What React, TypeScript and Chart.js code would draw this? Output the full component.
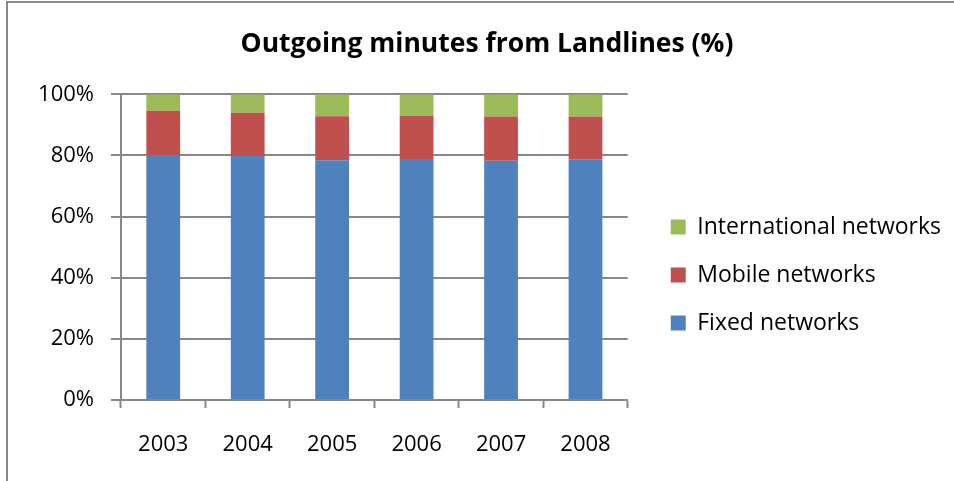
import React, { useEffect, useRef } from "react";
import { Chart, registerables } from "chart.js";

Chart.register(...registerables);

// Share of outgoing landline minutes by destination network, per year (%)
const years = ["2003", "2004", "2005", "2006", "2007", "2008"];
const fixedNetworks = [80.1, 79.8, 78.4, 78.8, 78.3, 78.6];
const mobileNetworks = [14.5, 14.2, 14.4, 14.2, 14.4, 14.1];
const internationalNetworks = [5.4, 6.0, 7.2, 7.0, 7.3, 7.3];
const yTicks = [0, 20, 40, 60, 80, 100];

const TITLE = "Outgoing minutes from Landlines (%)";
const FONT = "'Open Sans', Lato, sans-serif";
const AXIS_GREY = "#888888";

// invisible right-hand boxes that reserve room around the legend
const spacer = (width: number, weight: number) => ({
  type: "linear",
  position: "right",
  display: true,
  weight,
  grid: { display: false },
  border: { display: false },
  ticks: { display: false },
  afterFit: (scale: any) => {
    scale.width = width;
  },
});

export default function App() {
  const canvasRef = useRef<HTMLCanvasElement | null>(null);

  useEffect(() => {
    const canvas = canvasRef.current;
    if (!canvas) return;

    const chart = new Chart(canvas, {
      type: "bar",
      data: {
        labels: years,
        datasets: [
          {
            label: "Fixed networks",
            data: fixedNetworks,
            backgroundColor: "#4F81BD",
            borderWidth: 0,
          },
          {
            label: "Mobile networks",
            data: mobileNetworks,
            backgroundColor: "#C0504D",
            borderWidth: 0,
          },
          {
            label: "International networks",
            data: internationalNetworks,
            backgroundColor: "#9BBB59",
            borderWidth: 0,
          },
        ],
      },
      options: {
        responsive: false,
        animation: false,
        devicePixelRatio: 1,
        datasets: {
          bar: { categoryPercentage: 0.4, barPercentage: 1 },
        },
        layout: { padding: 0 },
        scales: {
          x: {
            stacked: true,
            grid: {
              display: true,
              drawOnChartArea: false,
              drawTicks: true,
              tickLength: 8,
              tickWidth: 2,
              color: AXIS_GREY,
              offset: true,
            },
            border: { display: true, color: AXIS_GREY, width: 2 },
            ticks: {
              color: "#000",
              padding: 24,
              font: { family: FONT, size: 22 },
              maxRotation: 0,
            },
            afterFit: (scale: any) => {
              scale.height = 147;
            },
          },
          y: {
            stacked: true,
            min: 0,
            max: 100,
            afterBuildTicks: (scale: any) => {
              scale.ticks = yTicks.map((v) => ({ value: v }));
            },
            grid: {
              color: AXIS_GREY,
              lineWidth: 2,
              drawTicks: true,
              tickLength: 10,
              tickWidth: 2,
            },
            border: { display: true, color: AXIS_GREY, width: 2 },
            ticks: {
              color: "#000",
              padding: 17,
              font: { family: FONT, size: 22 },
              callback: (v: any) => `${v}%`,
            },
            afterFit: (scale: any) => {
              scale.width = 113;
            },
          },
          gapInner: spacer(18, 0),
          gapOuter: spacer(15, 2000),
        },
        plugins: {
          title: {
            display: true,
            text: TITLE,
            color: "#000",
            font: { family: FONT, size: 26.5, weight: "bold" },
            padding: { top: 26, bottom: 33.5 },
          },
          legend: {
            display: true,
            position: "right",
            align: "center",
            reverse: true,
            maxWidth: 306,
            labels: {
              boxWidth: 15,
              boxHeight: 15,
              padding: 25,
              color: "#000",
              font: { family: FONT, size: 23 },
            },
          },
          tooltip: { enabled: false },
        },
      },
    } as any);

    return () => chart.destroy();
  }, []);

  return (
    <div
      style={{
        position: "fixed",
        left: 6,
        top: 1,
        width: 962,
        height: 552,
        border: `2px solid ${AXIS_GREY}`,
        boxSizing: "border-box",
        background: "#fff",
      }}
    >
      <canvas
        ref={canvasRef}
        width={958}
        height={544}
        style={{ display: "block", width: 958, height: 544 }}
      />
    </div>
  );
}
